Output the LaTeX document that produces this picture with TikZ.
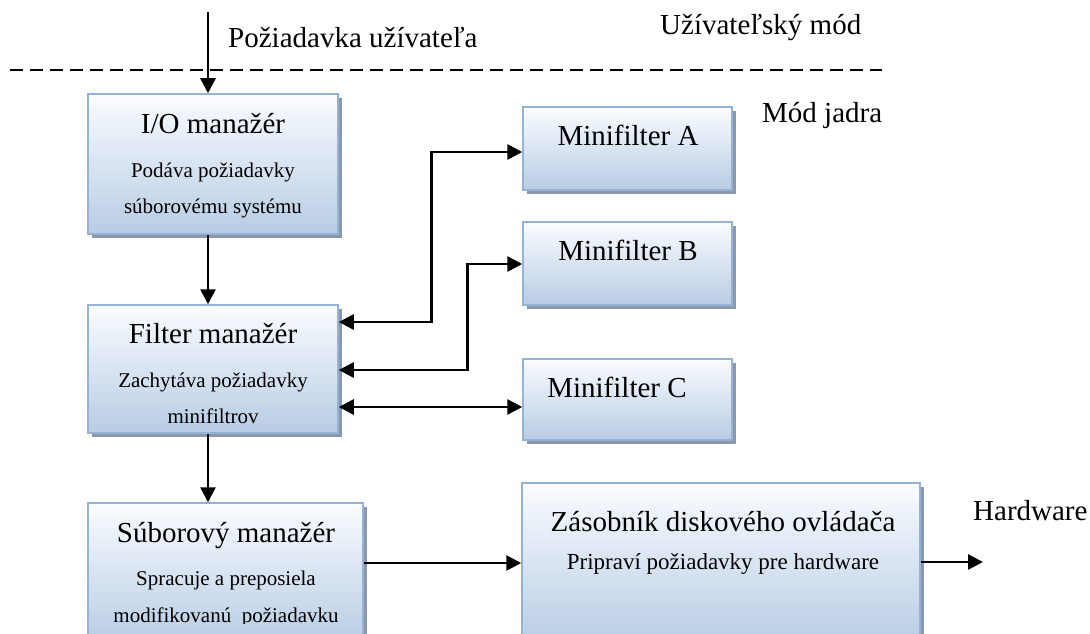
\documentclass[tikz,border=0pt]{standalone}
\usepackage{fontspec}
\setmainfont{Liberation Serif}
\usetikzlibrary{arrows.meta,shadows}
\definecolor{boxborder}{RGB}{149,179,215}
\definecolor{boxtop}{RGB}{250,252,255}
\definecolor{boxbot}{RGB}{184,204,228}
\definecolor{boxshadow}{RGB}{140,152,170}
\begin{document}
\begin{tikzpicture}[x=1pt,y=-1pt,
  box/.style={draw=boxborder, line width=1.5pt, top color=boxtop, bottom color=boxbot, inner sep=0pt,
    drop shadow={shadow xshift=3.5pt, shadow yshift=-3.5pt, fill=boxshadow, opacity=1}},
  ttl/.style={anchor=base, inner sep=0pt, font=\fontsize{29}{32}\selectfont},
  sbt/.style={anchor=base, inner sep=0pt, font=\fontsize{21}{24}\selectfont},
  lbl/.style={anchor=base west, inner sep=0pt, font=\fontsize{29}{32}\selectfont},
  arr/.style={line width=2.7pt, -{Triangle[length=15pt,width=15pt]}},
  darr/.style={line width=2.7pt, {Triangle[length=15pt,width=15pt]}-{Triangle[length=15pt,width=15pt]}},
  modeline/.style={line width=2.3pt, dash pattern=on 13pt off 7pt},
]
\useasboundingbox (0,0) rectangle (1090,634);
\fill[white] (0,0) rectangle (1090,634);

% boxes
\node[box, minimum width=250pt, minimum height=140pt] (io) at (213,164) {};
\node[box, minimum width=250pt, minimum height=128pt] (filt) at (213,369) {};
\node[box, minimum width=275pt, minimum height=140pt] (sub) at (225.5,573) {};
\node[box, minimum width=398pt, minimum height=160pt] (zas) at (721,563) {};
\node[box, minimum width=209pt, minimum height=83pt] (ma) at (627.5,148.5) {};
\node[box, minimum width=209pt, minimum height=83pt] (mb) at (627.5,263.5) {};
\node[box, minimum width=209pt, minimum height=81pt] (mc) at (627.5,399.5) {};

% texts in boxes
\node[ttl] (iot) at (213,133) {I/O manažér};
\node[sbt] (ios1) at (213,177) {Podáva požiadavky};
\node[sbt] (ios2) at (213,213) {súborovému systému};

\node[ttl] (filtt) at (213,343) {Filter manažér};
\node[sbt] (filts1) at (213,387) {Zachytáva požiadavky};
\node[sbt] (filts2) at (213,423) {minifiltrov};

\node[ttl] (subt) at (226,542) {Súborový manažér};
\node[sbt] (subs1) at (226,585) {Spracuje a preposiela};
\begin{scope}
  \clip (0,0) rectangle (1090,623);
  \node[sbt] (subs2) at (226,622) {modifikovanú\ \ požiadavku};
\end{scope}

\node[ttl] (zast) at (723,531) {Zásobník diskového ovládača};
\node[sbt, font=\fontsize{23}{26}\selectfont] (zass) at (723,569) {Pripraví požiadavky pre hardware};

\node[ttl] (mat) at (628,145) {Minifilter A};
\node[ttl] (mbt) at (628,260) {Minifilter B};
\node[ttl] (mct) at (617,397) {Minifilter C};

% labels
\node[lbl] (req) at (228,48) {Požiadavka užívateľa};
\node[lbl] (um) at (660,35) {Užívateľský mód};
\node[lbl] (mj) at (762,122) {Mód jadra};
\node[lbl] (hwl) at (973,520) {Hardware};

% mode separator
\coordinate (dl) at (10,70);
\coordinate (dr) at (882,70);
\draw[modeline] (dl) -- (dr);

% connectors
\coordinate (usr) at (208,12);
\draw[arr] (usr) -- (usr |- io.north);
\draw[arr] ([xshift=-5pt]io.south) -- ([xshift=-5pt]filt.north);
\draw[arr] ([xshift=-5pt]filt.south) -- ([xshift=-5pt]filt.south |- sub.north);

\draw[darr] ([yshift=47pt]filt.east) -| ([xshift=-91pt,yshift=-3.5pt]ma.west) -- ([yshift=-3.5pt]ma.west);
\draw[darr] ([yshift=-1pt]filt.east) -| ([xshift=-55pt,yshift=-0.5pt]mb.west) -- ([yshift=-0.5pt]mb.west);
\draw[darr] ([yshift=-38pt]filt.east) -- ([yshift=-38pt]filt.east -| mc.west);

\draw[arr] ([yshift=10pt]sub.east) -- ([yshift=10pt]sub.east -| zas.west);
\coordinate (hw) at (983,562);
\draw[arr] (zas.east |- hw) -- (hw);
\end{tikzpicture}
\end{document}
